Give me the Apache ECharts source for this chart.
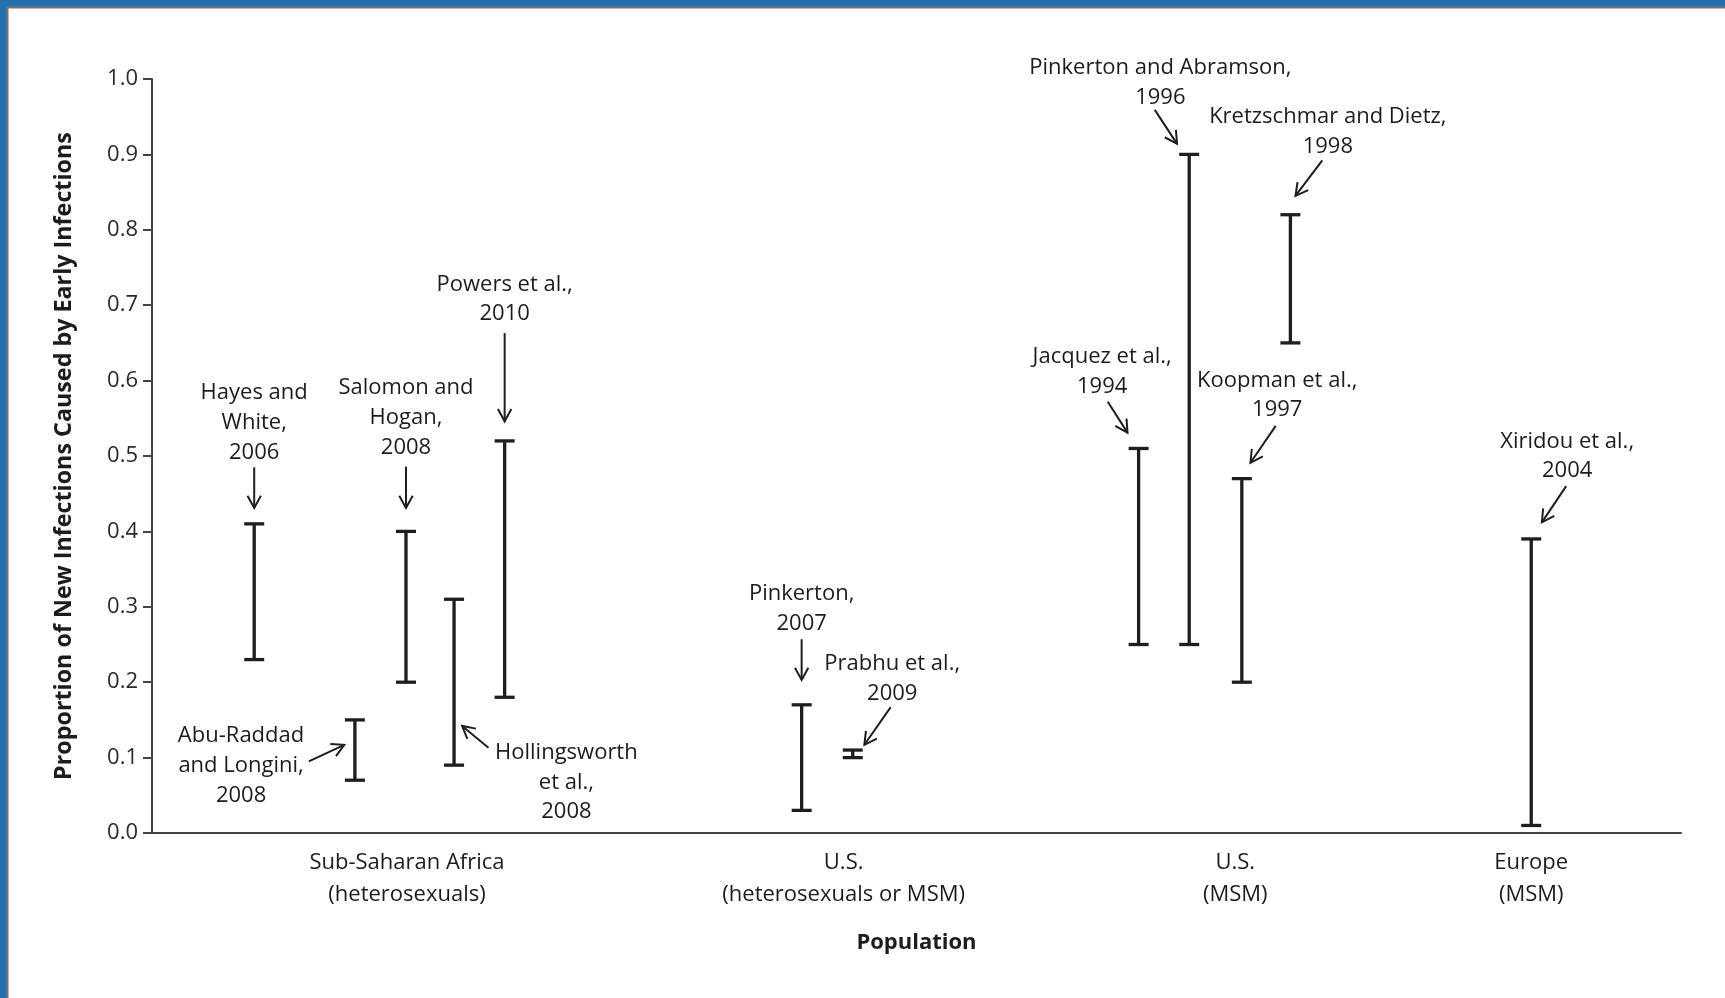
<!DOCTYPE html>
<html>
<head>
<meta charset="utf-8">
<script src="https://cdn.jsdelivr.net/npm/echarts@6/dist/echarts.min.js"></script>
<style>
  html, body { margin: 0; padding: 0; background: #fff; }
  #chart { width: 1725px; height: 998px; }
</style>
</head>
<body>
<div id="chart"></div>
<script>
// ---- data ----
const studies = [
  'Hayes and White, 2006',
  'Abu-Raddad and Longini, 2008',
  'Salomon and Hogan, 2008',
  'Hollingsworth et al., 2008',
  'Powers et al., 2010',
  'Pinkerton, 2007',
  'Prabhu et al., 2009',
  'Jacquez et al., 1994',
  'Pinkerton and Abramson, 1996',
  'Koopman et al., 1997',
  'Kretzschmar and Dietz, 1998',
  'Xiridou et al., 2004'
];
// position of each study along the population axis (slot units)
const studySlot = [2.02, 4.01, 5.02, 5.97, 6.97, 12.84, 13.85, 19.50, 20.50, 21.54, 22.50, 27.26];
const lowValues  = [0.23, 0.07, 0.20, 0.09, 0.18, 0.03, 0.10, 0.25, 0.25, 0.20, 0.65, 0.01];
const highValues = [0.41, 0.15, 0.40, 0.31, 0.52, 0.17, 0.11, 0.51, 0.90, 0.47, 0.82, 0.39];

const groupNames = [
  'Sub-Saharan Africa\n(heterosexuals)',
  'U.S.\n(heterosexuals or MSM)',
  'U.S.\n(MSM)',
  'Europe\n(MSM)'
];
const groupSlot = [5.04, 13.67, 21.41, 27.26];

const yTickLabels = ['0.0','0.1','0.2','0.3','0.4','0.5','0.6','0.7','0.8','0.9','1.0'];

const annotationTexts = [
  'Hayes and\nWhite,\n2006',
  'Abu-Raddad\nand Longini,\n2008',
  'Salomon and\nHogan,\n2008',
  'Hollingsworth\net al.,\n2008',
  'Powers et al.,\n2010',
  'Pinkerton,\n2007',
  'Prabhu et al.,\n2009',
  'Jacquez et al.,\n1994',
  'Pinkerton and Abramson,\n1996',
  'Koopman et al.,\n1997',
  'Kretzschmar and Dietz,\n1998',
  'Xiridou et al.,\n2004'
];
// annotation layout in axis units: [textX, textY, arrowFromX, arrowFromY, arrowToX, arrowToY]
const annotationLayout = [
  [2.02, 0.544, 2.02, 0.485, 2.02, 0.431],
  [1.76, 0.089, 3.10, 0.095, 3.80, 0.117],
  [5.02, 0.551, 5.02, 0.486, 5.02, 0.431],
  [8.19, 0.067, 6.65, 0.113, 6.13, 0.142],
  [6.97, 0.708, 6.97, 0.663, 6.97, 0.546],
  [12.84, 0.297, 12.84, 0.257, 12.84, 0.203],
  [14.63, 0.205, 14.60, 0.167, 14.08, 0.117],
  [18.78, 0.612, 18.89, 0.572, 19.28, 0.531],
  [19.93, 0.9955, 19.82, 0.959, 20.26, 0.914],
  [22.24, 0.5805, 22.21, 0.540, 21.71, 0.491],
  [23.24, 0.930, 23.13, 0.892, 22.60, 0.845],
  [27.97, 0.4995, 27.95, 0.460, 27.47, 0.412]
];

// ---- chart ----
const FONT = '"Open Sans", "Noto Sans", sans-serif';
const INK = '#1e1e1e';
const TEXT = '#1c1c1c';
const chart = echarts.init(document.getElementById('chart'), null, { renderer: 'canvas' });

const barData = studies.map((s, i) => [studySlot[i], lowValues[i], highValues[i]]);

const option = {
  backgroundColor: '#ffffff',
  animation: false,
  textStyle: { fontFamily: FONT },
  grid: { left: 152, right: 44, top: 79, bottom: 165 },
  xAxis: {
    type: 'value', min: 0, max: 30.22,
    axisLine: { show: true, lineStyle: { color: '#444', width: 2 } },
    axisTick: { show: false },
    splitLine: { show: false },
    axisLabel: {
      customValues: groupSlot,
      formatter: function (v) {
        let best = 0, d = Infinity;
        groupSlot.forEach((g, i) => { if (Math.abs(g - v) < d) { d = Math.abs(g - v); best = i; } });
        return groupNames[best];
      },
      color: TEXT, fontSize: 22, lineHeight: 31.5, margin: 14, fontFamily: FONT
    },
    name: 'Population', nameLocation: 'middle', nameGap: 99,
    nameTextStyle: { fontSize: 22, fontWeight: 'bold', color: TEXT, fontFamily: FONT }
  },
  yAxis: {
    type: 'value', min: 0, max: 1, interval: 0.1,
    axisLine: { show: true, lineStyle: { color: '#444', width: 2 } },
    axisTick: { show: true, length: 9, lineStyle: { color: '#444', width: 2 } },
    splitLine: { show: false },
    axisLabel: {
      formatter: function (v) { return yTickLabels[Math.round(v * 10)]; },
      color: '#2a2a2a', fontSize: 22, margin: 14, fontFamily: FONT
    },
    name: 'Proportion of New Infections Caused by Early Infections',
    nameLocation: 'middle', nameGap: 76,
    nameTextStyle: { fontSize: 23.3, fontWeight: 'bold', color: TEXT, fontFamily: FONT }
  },
  graphic: [
    { type: 'rect', shape: { x: 0, y: 0, width: 1725, height: 6 }, style: { fill: '#2470ae' }, silent: true },
    { type: 'rect', shape: { x: 0, y: 0, width: 6, height: 998 }, style: { fill: '#2470ae' }, silent: true },
    { type: 'rect', shape: { x: 6, y: 6, width: 1719, height: 2.5 }, style: { fill: '#707070' }, silent: true },
    { type: 'rect', shape: { x: 6, y: 6, width: 2.5, height: 992 }, style: { fill: '#707070' }, silent: true }
  ],
  series: [
    {
      type: 'custom',
      name: 'Range',
      data: barData,
      encode: { x: 0, y: [1, 2] },
      renderItem: function (params, api) {
        const x = api.value(0), lo = api.value(1), hi = api.value(2);
        const a = api.coord([x, lo]), b = api.coord([x, hi]);
        const h = 10;
        const st = { stroke: INK, lineWidth: 3.3 };
        return {
          type: 'group',
          children: [
            { type: 'line', shape: { x1: a[0], y1: a[1], x2: b[0], y2: b[1] }, style: st },
            { type: 'line', shape: { x1: b[0] - h, y1: b[1], x2: b[0] + h, y2: b[1] }, style: st },
            { type: 'line', shape: { x1: a[0] - h, y1: a[1], x2: a[0] + h, y2: a[1] }, style: st }
          ]
        };
      }
    },
    {
      type: 'custom',
      name: 'Annotations',
      data: annotationLayout,
      encode: { x: 0, y: 1 },
      renderItem: function (params, api) {
        const i = params.dataIndex;
        const t = api.coord([api.value(0), api.value(1)]);
        const p1 = api.coord([api.value(2), api.value(3)]);
        const p2 = api.coord([api.value(4), api.value(5)]);
        const dx = p2[0] - p1[0], dy = p2[1] - p1[1];
        const len = Math.sqrt(dx * dx + dy * dy) || 1;
        const ux = dx / len, uy = dy / len;
        const L = 14, ang = 0.5;
        const c = Math.cos(ang), s = Math.sin(ang);
        const l1 = [p2[0] - L * (ux * c - uy * s), p2[1] - L * (uy * c + ux * s)];
        const l2 = [p2[0] - L * (ux * c + uy * s), p2[1] - L * (uy * c - ux * s)];
        const st = { stroke: INK, lineWidth: 2, fill: null };
        return {
          type: 'group',
          children: [
            {
              type: 'text', x: t[0], y: t[1],
              style: {
                text: annotationTexts[i], fill: TEXT, font: '22px ' + FONT,
                align: 'center', verticalAlign: 'middle', lineHeight: 29.7
              }
            },
            { type: 'line', shape: { x1: p1[0], y1: p1[1], x2: p2[0], y2: p2[1] }, style: st },
            { type: 'polyline', shape: { points: [l1, p2, l2] }, style: st }
          ]
        };
      }
    }
  ]
};
chart.setOption(option);
</script>
</body>
</html>
